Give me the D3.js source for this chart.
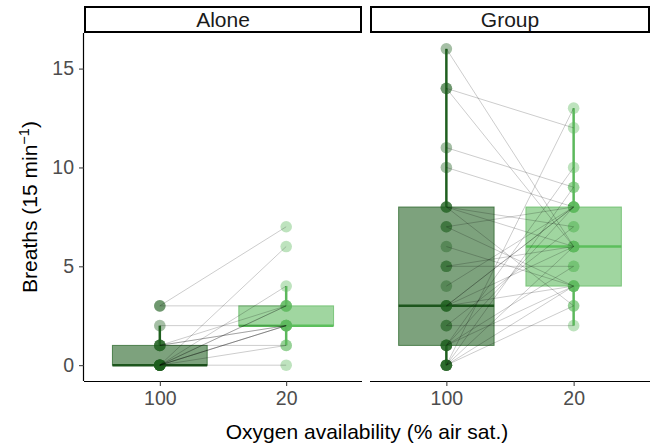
<!DOCTYPE html>
<html>
<head>
<meta charset="utf-8">
<script src="https://cdn.jsdelivr.net/npm/d3@7"></script>
<style>
  body { margin: 0; background: #fff; }
  text { font-family: "Liberation Sans", Arial, sans-serif; }
</style>
</head>
<body>
<svg id="chart" width="651" height="443"></svg>
<script>
(function () {
    // data: paired values, same index = same individual
    const conditions = ["100", "20"];
    const facets = ["Alone", "Group"];
    const alone100 = [0, 0, 0, 0, 0, 0, 0, 0, 0, 1, 1, 1, 1, 2, 3, 3];
    const alone20  = [0, 1, 2, 2, 2, 3, 3, 4, 6, 1, 2, 3, 2, 2, 7, 3];
    const group100 = [0, 0, 0, 0, 0, 1, 1, 1, 1, 2, 2, 3, 3, 3, 3, 4, 5, 5, 6, 7, 7, 8, 8, 8, 10, 11, 14, 14, 16];
    const group20  = [13, 9, 6, 4, 3, 10, 8, 5, 4, 7, 2, 8, 6, 4, 8, 8, 6, 5, 4, 8, 4, 6, 7, 3, 8, 9, 12, 6, 6];
    const yTicks = [0, 5, 10, 15];

    const colours = { "100": "#1f5f1f", "20": "#5cb85c" };
    const medians = { "100": "#1d561d", "20": "#5cbf5c" };

    const panels = [
        { name: facets[0], x0: 84, x1: 362, series: { "100": alone100, "20": alone20 } },
        { name: facets[1], x0: 370, x1: 650, series: { "100": group100, "20": group20 } }
    ];

    const top = 33, bottom = 381;
    const svg = d3.select("#chart");

    const y = d3.scaleLinear().domain([-0.8, 16.8]).range([bottom, top]);

    function boxStats(vals) {
        const s = vals.slice().sort(d3.ascending);
        const q1 = d3.quantile(s, 0.25), med = d3.quantile(s, 0.5), q3 = d3.quantile(s, 0.75);
        const iqr = q3 - q1;
        const lo = d3.min(s.filter(v => v >= q1 - 1.5 * iqr));
        const hi = d3.max(s.filter(v => v <= q3 + 1.5 * iqr));
        return { q1, med, q3, lo, hi };
    }

    panels.forEach((p, pi) => {
        const x = d3.scalePoint().domain(conditions).range([p.x0, p.x1]).padding(0.6);
        const bw = x.step() * 0.75;
        const g = svg.append("g");

        // strip
        g.append("rect")
            .attr("x", p.x0 + 1).attr("y", 7)
            .attr("width", p.x1 - p.x0 - 2).attr("height", 25)
            .attr("fill", "white").attr("stroke", "black").attr("stroke-width", 2);
        g.append("text")
            .attr("x", (p.x0 + p.x1) / 2).attr("y", 27)
            .attr("text-anchor", "middle").attr("font-size", 21).attr("fill", "#1a1a1a")
            .text(p.name);

        // boxplots
        conditions.forEach(c => {
            const st = boxStats(p.series[c]);
            const cx = x(c);
            g.append("line")
                .attr("x1", cx).attr("x2", cx)
                .attr("y1", y(st.hi)).attr("y2", y(st.q3))
                .attr("stroke", colours[c]).attr("stroke-width", 2.5);
            g.append("line")
                .attr("x1", cx).attr("x2", cx)
                .attr("y1", y(st.q1)).attr("y2", y(st.lo))
                .attr("stroke", colours[c]).attr("stroke-width", 2.5);
            g.append("rect")
                .attr("x", cx - bw / 2).attr("width", bw)
                .attr("y", y(st.q3)).attr("height", y(st.q1) - y(st.q3))
                .attr("fill", colours[c]).attr("fill-opacity", 0.58)
                .attr("stroke", colours[c]).attr("stroke-opacity", 0.7).attr("stroke-width", 1);
            g.append("line")
                .attr("x1", cx - bw / 2).attr("x2", cx + bw / 2)
                .attr("y1", y(st.med)).attr("y2", y(st.med))
                .attr("stroke", medians[c]).attr("stroke-width", 2.5);
        });

        // points
        conditions.forEach(c => {
            g.append("g").selectAll("circle")
                .data(p.series[c])
                .join("circle")
                .attr("cx", x(c))
                .attr("cy", d => y(d))
                .attr("r", 5.8)
                .attr("fill", colours[c])
                .attr("fill-opacity", 0.4);
        });

        // paired lines
        const pairs = p.series["100"].map((v, i) => [v, p.series["20"][i]]);
        g.append("g").selectAll("line")
            .data(pairs)
            .join("line")
            .attr("x1", x("100")).attr("y1", d => y(d[0]))
            .attr("x2", x("20")).attr("y2", d => y(d[1]))
            .attr("stroke", "black").attr("stroke-opacity", 0.2).attr("stroke-width", 1);

        // x axis
        const xAxis = g.append("g").attr("transform", `translate(0,${bottom})`)
            .call(d3.axisBottom(x).tickSize(5).tickPadding(5));
        xAxis.select(".domain").attr("d", `M${p.x0},0.5H${p.x1}`).attr("stroke", "black").attr("stroke-width", 1.2);
        xAxis.selectAll(".tick line").attr("stroke", "#333");
        xAxis.selectAll(".tick text").attr("font-size", 19.5).attr("fill", "#4d4d4d")
            .style("font-family", "'Liberation Sans', Arial, sans-serif");

        if (pi === 0) {
            const yAxis = g.append("g").attr("transform", `translate(${p.x0},0)`)
                .call(d3.axisLeft(y).tickValues(yTicks).tickSize(5).tickPadding(5));
            yAxis.select(".domain").attr("d", `M-0.5,${top}V${bottom}`).attr("stroke", "black").attr("stroke-width", 1.2);
            yAxis.selectAll(".tick line").attr("stroke", "#333");
            yAxis.selectAll(".tick text").attr("font-size", 19.5).attr("fill", "#4d4d4d")
                .style("font-family", "'Liberation Sans', Arial, sans-serif");
        }
    });

    // axis titles
    svg.append("text")
        .attr("x", (panels[0].x0 + panels[1].x1) / 2).attr("y", 439)
        .attr("text-anchor", "middle").attr("font-size", 21).attr("fill", "black")
        .text("Oxygen availability (% air sat.)");

    const yt = svg.append("text")
        .attr("transform", `translate(37,${(top + bottom) / 2}) rotate(-90)`)
        .attr("text-anchor", "middle").attr("font-size", 21).attr("fill", "black");
    yt.append("tspan").text("Breaths (15 min");
    yt.append("tspan").attr("dy", -8).attr("font-size", 14.5).text("\u22121");
    yt.append("tspan").attr("dy", 8).text(")");
})();
</script>
</body>
</html>
